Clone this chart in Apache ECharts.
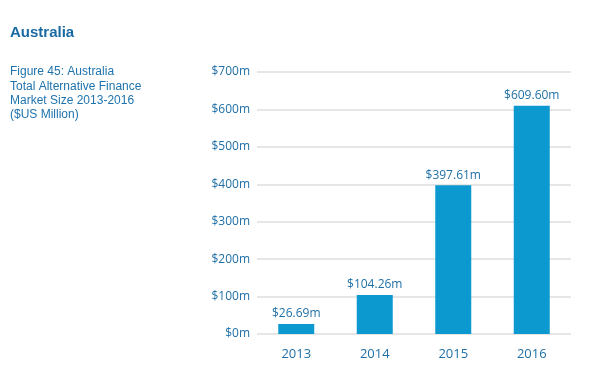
<!DOCTYPE html>
<html><head><meta charset="utf-8">
<script src="https://cdn.jsdelivr.net/npm/echarts@6/dist/echarts.min.js"></script>
<style>html,body{margin:0;padding:0;background:#fff}#c{width:600px;height:387px}</style>
</head><body><div id="c"></div>
<script>
const categories = ['2013','2014','2015','2016'];
const values = [26.69, 104.26, 397.61, 609.60];
const valueLabels = ['$26.69m','$104.26m','$397.61m','$609.60m'];
const yTicks = [0,100,200,300,400,500,600,700];

const chart = echarts.init(document.getElementById('c'), null, {renderer:'canvas'});
const blue = '#1f6fa6';
chart.setOption({
  backgroundColor:'#fff',
  animation:false,
  title:[
    {text:'Australia', left:5, top:20, textStyle:{fontFamily:'Liberation Sans', fontWeight:'bold', fontSize:15, color:'#1a6aa3'}},
    {text:'Figure 45: Australia\nTotal Alternative Finance\nMarket Size 2013-2016\n($US Million)', left:5, top:60,
     textStyle:{fontFamily:'Liberation Sans', fontWeight:'normal', fontSize:12, lineHeight:14.3, color:'#1f73ac'}}
  ],
  grid:{left:257, right:29, top:72, bottom:53, containLabel:false},
  xAxis:{type:'category', data:categories,
    axisLine:{show:false}, axisTick:{show:false},
    axisLabel:{color:blue, fontFamily:'Open Sans', fontSize:13, margin:14}},
  yAxis:{type:'value', min:0, max:700, interval:100,
    axisLine:{show:false}, axisTick:{show:false},
    splitLine:{lineStyle:{color:'#dedede', width:1.5}},
    axisLabel:{color:blue, fontFamily:'Open Sans', fontSize:12, margin:7,
      formatter:v=>'$'+v+'m'}},
  series:[{type:'bar', data:values, barWidth:36,
    itemStyle:{color:'#0c99cf'},
    label:{show:true, position:'top', distance:4, color:blue, fontFamily:'Open Sans', fontSize:12,
      formatter:p=>valueLabels[p.dataIndex]}}]
});
</script></body></html>
